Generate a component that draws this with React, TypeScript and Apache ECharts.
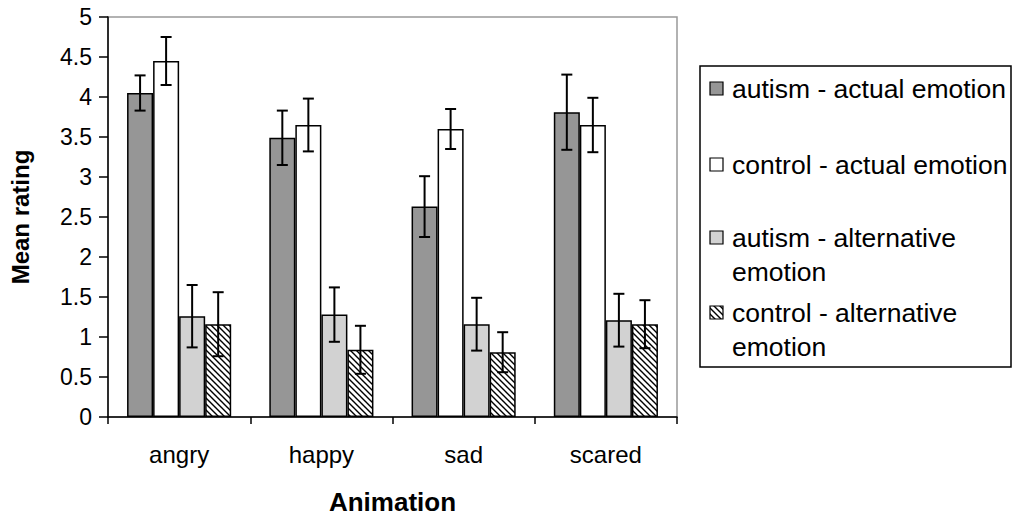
import React, { useEffect, useRef } from "react";
import * as echarts from "echarts";

const categories = ["angry", "happy", "sad", "scared"];
const seriesNames = [
  "autism - actual emotion",
  "control - actual emotion",
  "autism - alternative emotion",
  "control - alternative emotion",
];
const autismActual = [4.05, 3.49, 2.63, 3.81];
const autismActualErr = [0.22, 0.34, 0.38, 0.47];
const controlActual = [4.45, 3.65, 3.6, 3.65];
const controlActualErr = [0.3, 0.33, 0.25, 0.34];
const autismAlt = [1.26, 1.28, 1.16, 1.21];
const autismAltErr = [0.39, 0.34, 0.33, 0.33];
const controlAlt = [1.16, 0.84, 0.81, 1.16];
const controlAltErr = [0.4, 0.3, 0.25, 0.3];

const FONT = "Liberation Sans, Arial, sans-serif";
const BAR_FRAC = 0.183;

function makeHatch() {
  const c = document.createElement("canvas");
  const s = 6;
  c.width = s;
  c.height = s;
  const ctx = c.getContext("2d")!;
  ctx.fillStyle = "#ffffff";
  ctx.fillRect(0, 0, s, s);
  ctx.strokeStyle = "#000000";
  ctx.lineWidth = 1.4;
  ctx.beginPath();
  ctx.moveTo(-1, -1);
  ctx.lineTo(s + 1, s + 1);
  ctx.moveTo(-1, s - 1);
  ctx.lineTo(1, s + 1);
  ctx.moveTo(s - 1, -1);
  ctx.lineTo(s + 1, 1);
  ctx.stroke();
  return c;
}

export default function App() {
  const ref = useRef<HTMLDivElement>(null);
  useEffect(() => {
    if (!ref.current) return;
    const chart = echarts.init(ref.current, undefined, { renderer: "svg" });
    const hatch = makeHatch();
    const hatchFill: any = { image: hatch, repeat: "repeat", imageWidth: 6, imageHeight: 6 };
    const values = [autismActual, controlActual, autismAlt, controlAlt];
    const errs = [autismActualErr, controlActualErr, autismAltErr, controlAltErr];
    const fills: any[] = ["#969696", "#ffffff", "#d2d2d2", hatchFill];

    const errData: number[][] = [];
    values.forEach((vals, s) => {
      vals.forEach((v, i) => {
        errData.push([i, s, v - errs[s][i], v + errs[s][i]]);
      });
    });

    const barSeries = values.map((vals, s) => ({
      name: seriesNames[s],
      type: "bar",
      data: vals,
      barWidth: "18.3%",
      barGap: "0%",
      itemStyle: { color: fills[s], borderColor: "#000", borderWidth: 1.5 },
      z: 2,
    }));

    const legendItems: any[] = [];
    const lx = 700;
    const ly = 66;
    legendItems.push({
      type: "rect",
      shape: { x: lx, y: ly, width: 311, height: 301 },
      style: { fill: "#fff", stroke: "#000", lineWidth: 1.5 },
    });
    const firstLineY = [89, 165, 238, 313];
    seriesNames.forEach((name, s) => {
      legendItems.push({
        type: "rect",
        shape: { x: 710, y: firstLineY[s] - 7, width: 13, height: 13 },
        style: { fill: fills[s], stroke: "#000", lineWidth: 1.2 },
      });
      const text = s >= 2 ? name.replace(" emotion", "\nemotion") : name;
      legendItems.push({
        type: "text",
        x: 732,
        y: firstLineY[s] - 17,
        style: {
          text,
          fill: "#000",
          font: `26.5px ${FONT}`,
          lineHeight: 34,
          textVerticalAlign: "top",
        },
      });
    });

    chart.setOption({
      animation: false,
      backgroundColor: "#fff",
      grid: {
        left: 108,
        right: 336,
        top: 17,
        bottom: 102,
        show: true,
        borderColor: "#999",
        borderWidth: 1.5,
        backgroundColor: "#fff",
      },
      xAxis: {
        type: "category",
        data: categories,
        name: "Animation",
        nameLocation: "middle",
        nameGap: 72,
        nameTextStyle: { fontFamily: FONT, fontWeight: "bold", fontSize: 26, color: "#000" },
        axisLine: { lineStyle: { color: "#000", width: 1.5 } },
        axisTick: { show: true, length: 7, lineStyle: { color: "#000", width: 1.5 } },
        axisLabel: { fontFamily: FONT, fontSize: 24, color: "#000", margin: 25 },
      },
      yAxis: {
        type: "value",
        min: 0,
        max: 5,
        interval: 0.5,
        name: "Mean rating",
        nameLocation: "middle",
        nameGap: 76,
        nameTextStyle: { fontFamily: FONT, fontWeight: "bold", fontSize: 24, color: "#000" },
        axisLine: { show: true, lineStyle: { color: "#000", width: 1.5 } },
        axisTick: { show: true, length: 9, lineStyle: { color: "#000", width: 1.5 } },
        axisLabel: { fontFamily: FONT, fontSize: 23, color: "#000", margin: 16 },
        splitLine: { show: false },
      },
      series: [
        ...barSeries,
        {
          type: "custom",
          name: "error",
          data: errData,
          z: 5,
          encode: { x: 0, y: [2, 3] },
          renderItem: (params: any, api: any) => {
            const cat = api.value(0);
            const s = api.value(1);
            const lo = api.coord([cat, api.value(2)]);
            const hi = api.coord([cat, api.value(3)]);
            const band = api.size([1, 0])[0];
            const bw = band * BAR_FRAC;
            const x = lo[0] + (s - 1.5) * bw;
            const cap = 5.5;
            const st = { stroke: "#000", lineWidth: 2 };
            return {
              type: "group",
              children: [
                { type: "line", shape: { x1: x, y1: lo[1], x2: x, y2: hi[1] }, style: st },
                { type: "line", shape: { x1: x - cap, y1: lo[1], x2: x + cap, y2: lo[1] }, style: st },
                { type: "line", shape: { x1: x - cap, y1: hi[1], x2: x + cap, y2: hi[1] }, style: st },
              ],
            };
          },
        },
      ],
      graphic: legendItems,
    });
    return () => chart.dispose();
  }, []);
  return <div ref={ref} style={{ width: 1013, height: 520, position: "absolute", left: 0, top: 0 }} />;
}
